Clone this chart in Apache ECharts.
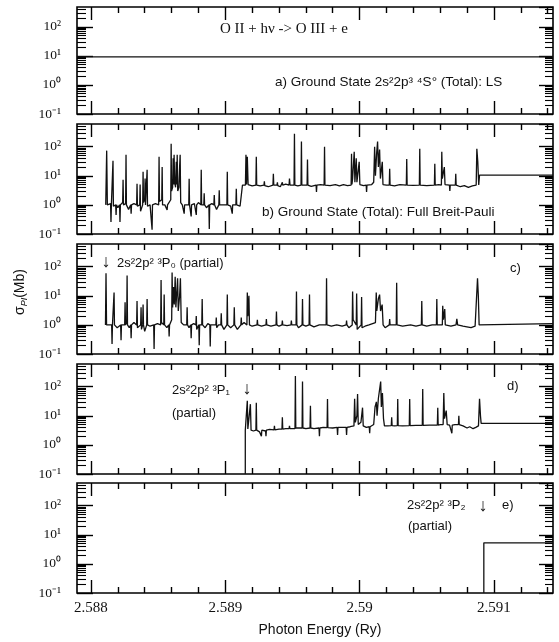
<!DOCTYPE html>
<html><head><meta charset="utf-8">
<script src="https://cdn.jsdelivr.net/npm/echarts@6/dist/echarts.min.js"></script>
<style>html,body{margin:0;padding:0;background:#fff}#c{width:559px;height:642px}</style>
</head><body><div id="c"></div>
<script>
// ---- axis ranges and ticks ----
const xMin = 2.587896, xMax = 2.59144;
const xMajorTicks = [2.588, 2.589, 2.59, 2.591];
const xMinorTicks = [2.5882, 2.5884, 2.5886, 2.5888, 2.5892, 2.5894, 2.5896, 2.5898,
  2.5902, 2.5904, 2.5906, 2.5908, 2.5912, 2.5914];
const yMin = 0.1;
const yMaxByPanel = [480, 600, 600, 600, 600];
const yMinorTicks = [0.2,0.3,0.4,0.5,0.6,0.7,0.8,0.9,2,3,4,5,6,7,8,9,20,30,40,50,60,70,80,90,200,300,400,500];

// ---- panel a: LS total ----
const aPoints = [[2.587896, 9.3], [2.59144, 9.3]];

// ---- panel b: full Breit-Pauli total ----
const bPoints = [
[2.588110,1.0],[2.588117,73],[2.588122,1.0],
[2.588146,1.1],[2.588149,0.26],[2.588152,1.0],
[2.588161,1.0],[2.588164,33],[2.588167,0.9],
[2.588184,1.0],[2.588187,0.45],[2.588190,1.0],
[2.588200,0.8],
[2.588213,1.0],[2.588216,0.26],[2.588219,1.0],
[2.588236,1.2],[2.588239,7.3],[2.588242,1.0],
[2.588258,1.1],[2.588261,53],[2.588264,1.0],
[2.588280,0.7],
[2.588296,1.0],[2.588299,0.5],[2.588302,1.0],
[2.588320,1.1],
[2.588340,1.0],[2.588343,5.3],[2.588346,0.9],
[2.588363,1.0],[2.588366,5],[2.588369,0.6],
[2.588385,1.0],[2.588388,13.7],[2.588391,1.2],
[2.588400,1.5],[2.588403,8],[2.588406,1],
[2.588415,1.0],[2.588418,16],[2.588421,0.9],
[2.588440,1.0],
[2.588452,1.0],[2.588455,0.14],[2.588458,1.0],
[2.588480,1.1],
[2.588504,1.0],[2.588507,45],[2.588510,1.3],
[2.588527,1.5],[2.588530,20],[2.588533,1.0],
[2.588550,1.0],
[2.588564,1.0],[2.588567,0.67],[2.588570,1.0],
[2.588594,1.5],[2.588597,126],[2.588600,3],
[2.588608,4],[2.588612,40],[2.588616,5],
[2.588619,53],[2.588623,6],
[2.588630,4],[2.588635,30],[2.588639,5],
[2.588642,53],[2.588646,3],
[2.588655,4],[2.588660,20],[2.588664,53],[2.588668,1.2],
[2.588680,1.0],
[2.588691,1.0],[2.588694,0.5],[2.588697,1.0],
[2.588728,1.0],[2.588731,7.9],[2.588734,1.0],
[2.588743,1.0],[2.588746,0.4],[2.588749,1.0],
[2.588770,1.1],
[2.588781,1.0],[2.588784,0.45],[2.588787,1.0],
[2.588800,1.2],
[2.588818,1.0],[2.588821,16],[2.588824,1.0],
[2.588840,1.0],[2.588843,2.5],[2.588846,1.0],
[2.588860,0.8],
[2.588878,1.0],[2.588881,0.15],[2.588884,1.0],
[2.588900,1.1],
[2.588915,1.0],[2.588918,2.2],[2.588921,1.0],
[2.588935,0.7],
[2.588952,1.0],[2.588955,3.2],[2.588958,1.0],
[2.588990,1.0],
[2.589012,1.0],[2.589015,13.7],[2.589018,1.0],
[2.589040,0.9],
[2.589049,1.0],[2.589052,0.5],[2.589055,1.0],
[2.589079,1.0],[2.589082,3.6],[2.589085,1.0],
[2.589110,0.9],
[2.589124,1.0],[2.589128,4.8],
[2.589150,4.8],[2.589154,53],[2.589158,5],
[2.589164,45],[2.589170,5],
[2.589200,4.5],
[2.589228,4.8],[2.589231,45],[2.589234,4.8],
[2.589260,4.5],
[2.589288,4.8],[2.589291,6.5],[2.589294,4.6],
[2.589320,4.2],
[2.589355,4.8],[2.589358,11.7],[2.589361,4.8],
[2.589385,4.8],[2.589388,6],[2.589391,4.6],
[2.589410,4.2],
[2.589422,4.8],[2.589425,6],[2.589428,4.8],
[2.589450,5.2],
[2.589475,4.8],[2.589478,8],[2.589482,4.8],
[2.589512,4.8],[2.589515,280],[2.589518,4.8],
[2.589540,4.5],
[2.589564,4.8],[2.589567,150],[2.589570,4.8],
[2.589609,4.8],[2.589612,36],[2.589615,4.8],
[2.589640,4.3],
[2.589676,4.8],[2.589679,2.8],[2.589682,4.8],
[2.589710,5],
[2.589736,4.8],[2.589739,100],[2.589742,4.8],
[2.589780,4.6],
[2.589820,5],[2.589850,4.5],[2.589880,5],
[2.589910,4.6],
[2.589937,4.8],[2.589940,57],[2.589943,5],
[2.589948,8],[2.589960,67],[2.589965,6],
[2.589975,40],[2.589980,6],
[2.589997,30],[2.590002,5],
[2.590030,4.6],
[2.590049,4.8],[2.590052,2.8],[2.590055,4.8],
[2.590090,5],
[2.590105,6],[2.590112,100],[2.590118,10],[2.590127,60],[2.590134,150],[2.590140,20],[2.590149,80],[2.590155,8],[2.590169,30],[2.590174,5],
[2.590200,4.8],
[2.590221,4.8],[2.590224,17.4],[2.590227,4.8],
[2.590260,4.5],
[2.590300,5],
[2.590348,4.8],[2.590351,38],[2.590354,4.8],
[2.590400,4.7],
[2.590445,4.8],[2.590448,85],[2.590451,4.8],
[2.590500,4.6],
[2.590557,4.8],[2.590560,26],[2.590563,4.8],
[2.590590,5],
[2.590609,4.8],[2.590612,67],[2.590616,8],
[2.590631,20],[2.590636,5],
[2.590669,4.8],[2.590672,3],[2.590675,4.8],
[2.590713,4.8],[2.590716,11.7],[2.590719,4.8],
[2.590750,4.2],[2.590780,4.6],[2.590810,4.0],[2.590840,4.5],
[2.590868,4.8],[2.590873,85],[2.590880,30],[2.590887,4.8],
[2.590893,10.5],
[2.59144,10.5]
];

// ---- panel c: 3P0 partial ----
const cPoints = [
[2.588108,1.0],[2.588112,59],[2.588116,1.0],
[2.588130,0.9],
[2.588154,1.0],[2.588157,0.22],[2.588160,1.0],
[2.588169,1.1],[2.588172,13],[2.588175,1.0],
[2.588195,0.8],
[2.588221,1.0],[2.588224,0.3],[2.588227,1.0],
[2.588251,1.0],[2.588254,6],[2.588257,1.0],
[2.588266,1.2],[2.588269,50],[2.588272,1.0],
[2.588285,0.8],
[2.588296,1.0],[2.588299,0.35],[2.588302,1.0],
[2.588320,1.2],
[2.588340,1.0],[2.588343,6.6],[2.588346,0.8],
[2.588370,1.0],[2.588373,4],[2.588376,0.7],
[2.588385,1.0],[2.588388,5],[2.588391,1.0],
[2.588400,0.6],
[2.588415,1.0],[2.588418,7.7],[2.588421,1.0],
[2.588440,0.9],
[2.588467,1.0],[2.588470,0.15],[2.588473,1.0],
[2.588495,1.1],
[2.588519,1.0],[2.588522,35],[2.588525,1.2],
[2.588542,1.0],[2.588545,11],[2.588548,1.0],
[2.588565,0.8],
[2.588579,1.0],[2.588582,0.4],[2.588585,1.0],
[2.588601,1.5],[2.588604,63],[2.588608,4],[2.588615,20],[2.588620,5],[2.588627,45],[2.588632,4],[2.588640,15],[2.588645,40],[2.588650,3],[2.588660,10],[2.588666,40],[2.588672,1.2],
[2.588690,1.0],
[2.588713,1.0],[2.588716,4],[2.588719,1.0],
[2.588730,0.8],
[2.588743,1.0],[2.588746,0.35],[2.588749,1.0],
[2.588765,1.1],
[2.588781,1.0],[2.588784,2],[2.588787,0.7],
[2.588803,1.0],[2.588806,0.2],[2.588809,1.0],
[2.588825,1.0],[2.588828,7.7],[2.588831,1.0],
[2.588850,0.8],
[2.588870,1.1],
[2.588885,1.0],[2.588888,0.18],[2.588891,1.0],
[2.588910,1.0],
[2.588930,1.0],[2.588933,1.8],[2.588936,0.8],
[2.588950,1.0],
[2.588967,1.0],[2.588970,2.5],[2.588973,1.0],
[2.588990,0.7],
[2.589012,1.0],[2.589015,11],[2.589018,1.0],
[2.589040,0.8],
[2.589064,1.0],[2.589067,4],[2.589070,1.0],
[2.589090,0.7],
[2.589116,1.0],[2.589119,1.8],[2.589122,1.0],
[2.589140,1.2],
[2.589161,1.0],[2.589164,13],[2.589168,2],[2.589176,10],[2.589180,1.0],
[2.589200,0.9],
[2.589236,1.0],[2.589239,1.5],[2.589242,1.0],
[2.589270,0.9],
[2.589303,1.0],[2.589306,1.6],[2.589309,1.0],
[2.589340,0.9],
[2.589378,1.0],[2.589381,2.9],[2.589384,1.0],
[2.589400,0.9],
[2.589422,1.0],[2.589425,1.4],[2.589428,1.0],
[2.589460,0.95],
[2.589489,1.0],[2.589492,1.4],[2.589495,1.0],
[2.589527,1.0],[2.589530,14],[2.589533,1.0],
[2.589545,0.8],
[2.589572,1.0],[2.589575,7.7],[2.589578,1.0],
[2.589600,0.9],
[2.589624,1.0],[2.589627,11],[2.589630,1.0],
[2.589660,0.85],
[2.589700,1.0],
[2.589751,1.0],[2.589754,40],[2.589757,1.0],
[2.589790,0.9],
[2.589830,1.0],
[2.589870,0.9],
[2.589900,1.0],[2.589903,1.4],[2.589906,1.0],
[2.589920,0.8],
[2.589945,1.0],[2.589948,14],[2.589952,1.5],
[2.589975,1.0],[2.589978,12],[2.589982,0.7],
[2.590012,1.0],[2.590015,9],[2.590018,0.8],
[2.590040,0.9],
[2.590070,1.0],
[2.590118,1.2],[2.590124,13],[2.590128,3],[2.590140,8],[2.590149,11],[2.590156,3],[2.590168,5],[2.590175,1.0],
[2.590190,0.8],
[2.590221,1.0],[2.590224,1.6],[2.590227,1.0],
[2.590273,1.0],[2.590276,28],[2.590279,1.0],
[2.590320,0.9],
[2.590380,1.0],
[2.590420,0.9],
[2.590460,1.0],[2.590463,6.6],[2.590466,1.0],
[2.590500,0.9],
[2.590540,1.0],
[2.590572,1.0],[2.590575,7.7],[2.590578,1.0],
[2.590600,1.0],
[2.590616,1.0],[2.590619,4.5],[2.590624,1.5],[2.590634,3.5],[2.590638,1.0],
[2.590680,0.9],
[2.590718,1.0],[2.590724,1.6],[2.590730,1.0],
[2.590770,0.9],
[2.590799,0.85],
[2.590830,0.8],
[2.590860,0.9],
[2.590874,1.0],[2.590878,40],[2.590884,10],[2.590890,1.0],
[2.590896,1.1],
[2.59144,1.1]
];

// ---- panel d: 3P1 partial ----
const dPoints = [
[2.589149,0.1],[2.589149,3.2],
[2.589160,3.2],[2.589164,33],[2.589168,3.5],
[2.589180,4],[2.589187,25],[2.589192,3.2],
[2.589210,3.0],
[2.589228,3.2],[2.589231,28],[2.589234,3.2],
[2.589255,2.8],
[2.589266,3.2],[2.589269,2.0],[2.589272,3.2],
[2.589300,3.0],[2.589303,2.0],[2.589306,3.2],
[2.589330,3.4],
[2.589363,3.3],[2.589366,4.5],[2.589369,3.3],
[2.589400,3.5],
[2.589422,3.5],[2.589425,8.8],[2.589428,3.5],
[2.589450,3.6],
[2.589475,3.6],[2.589478,4.5],[2.589481,3.6],
[2.589519,3.6],[2.589522,230],[2.589525,3.8],
[2.589572,3.8],[2.589575,150],[2.589578,3.8],
[2.589600,3.6],
[2.589631,3.8],[2.589634,22],[2.589637,3.8],
[2.589660,3.6],
[2.589698,3.8],[2.589701,2.0],[2.589704,3.8],
[2.589730,4],
[2.589758,3.9],[2.589761,38],[2.589764,3.9],
[2.589800,3.8],
[2.589833,4],[2.589836,2.2],[2.589839,4],
[2.589870,4],
[2.589900,4],[2.589903,2.2],[2.589906,4],
[2.589930,4.2],
[2.589958,4.5],[2.589963,38],[2.589968,6],[2.589980,10],[2.589985,56],[2.589990,5],
[2.590010,6],[2.590022,19],[2.590027,4.5],
[2.590050,4],
[2.590072,4.2],[2.590075,2.5],[2.590078,4.2],
[2.590105,5],[2.590115,20],[2.590125,30],[2.590130,10],[2.590140,40],[2.590157,150],[2.590162,20],[2.590170,60],[2.590178,8],[2.590185,4.5],
[2.590210,4.5],
[2.590236,4.6],[2.590239,8.8],[2.590242,4.6],
[2.590260,4.5],
[2.590281,4.6],[2.590284,38],[2.590287,4.6],
[2.590320,4.5],
[2.590370,4.6],[2.590373,38],[2.590376,4.6],
[2.590420,4.7],
[2.590467,4.7],[2.590470,83],[2.590473,4.7],
[2.590520,4.8],
[2.590579,4.8],[2.590582,19],[2.590585,4.8],
[2.590600,5],
[2.590622,5],[2.590627,60],[2.590632,8],[2.590645,15],[2.590652,5],
[2.590670,4.8],
[2.590684,4.8],[2.590687,2.5],[2.590690,4.8],
[2.590710,5],
[2.590736,5],[2.590739,10],[2.590742,5],
[2.590770,4.5],
[2.590800,3.8],[2.590820,4.2],[2.590845,3.6],[2.590865,4],
[2.590885,4.5],[2.590893,38],[2.590900,10],[2.590905,5.5],
[2.59144,5.5]
];

// ---- panel e: 3P2 partial ----
const ePoints = [[2.590925, 0.1], [2.590925, 5.3], [2.59144, 5.3]];

const panelData = [aPoints, bPoints, cPoints, dPoints, ePoints];
const panelTops = [7, 124, 244, 364, 483];
const panelHeights = [107, 110, 110, 110, 110];

const SUP = {'-':'\u207B','0':'\u2070','1':'\u00B9','2':'\u00B2','3':'\u00B3'};
function powLabel(v) {
  const l = Math.log10(v), e = Math.round(l);
  if (Math.abs(l - e) > 1e-6) return '';
  return '10' + String(e).split('').map(c => SUP[c]).join('');
}

const grids = [], xAxes = [], yAxes = [], series = [];
const tickStyle = {color: '#000', width: 1.4};
const minorStyle = {color: '#000', width: 1.1};
for (let i = 0; i < 5; i++) {
  grids.push({left: 77, right: 6, top: panelTops[i], height: panelHeights[i],
    show: true, borderColor: '#000', borderWidth: 1.6, backgroundColor: 'transparent'});
  const xBase = {type: 'value', gridIndex: i, min: xMin, max: xMax, splitLine: {show: false},
    axisLine: {show: false}};
  [['bottom', xMajorTicks, 13, i === 4], ['bottom', xMinorTicks, 6, false],
   ['top', xMajorTicks, 13, false], ['top', xMinorTicks, 6, false]].forEach(([pos, vals, len, lab]) => {
    xAxes.push(Object.assign({}, xBase, {position: pos,
      axisTick: {show: true, inside: true, length: len, customValues: vals, lineStyle: tickStyle},
      axisLabel: {show: lab, customValues: xMajorTicks, fontFamily: 'Liberation Serif', fontSize: 15,
        color: '#111', margin: 8, formatter: v => String(+v.toFixed(3))}}));
  });
  const yBase = {type: 'log', logBase: 10, gridIndex: i, min: yMin, max: yMaxByPanel[i],
    splitLine: {show: false}, axisLine: {show: false}};
  yAxes.push(Object.assign({}, yBase, {position: 'left',
    axisTick: {show: true, inside: true, length: 16, lineStyle: tickStyle},
    axisLabel: {show: true, formatter: powLabel, fontFamily: 'Liberation Serif', fontSize: 13.5,
      color: '#111', margin: 16, showMaxLabel: false}}));
  yAxes.push(Object.assign({}, yBase, {position: 'left',
    axisTick: {show: true, inside: true, length: 9, customValues: yMinorTicks, lineStyle: minorStyle},
    axisLabel: {show: false}}));
  yAxes.push(Object.assign({}, yBase, {position: 'right',
    axisTick: {show: true, inside: true, length: 14, lineStyle: tickStyle},
    axisLabel: {show: false}}));
  yAxes.push(Object.assign({}, yBase, {position: 'right',
    axisTick: {show: true, inside: true, length: 8, customValues: yMinorTicks, lineStyle: minorStyle},
    axisLabel: {show: false}}));
  series.push({type: 'line', xAxisIndex: 4 * i, yAxisIndex: 4 * i, data: panelData[i],
    showSymbol: false, symbol: 'none', silent: true, clip: true,
    lineStyle: {color: '#111', width: 1.3}});
}

const sans = 'Liberation Sans', serif = 'Liberation Serif';
function txt(x, y, text, size, family, align, weight) {
  return {type: 'text', x: x, y: y, silent: true,
    style: {text: text, font: (weight || 'normal') + ' ' + size + 'px "' + family + '"', fill: '#111',
      textAlign: align || 'left', textVerticalAlign: 'middle'}};
}
const graphics = [
  txt(220, 29, 'O II + h\u03BD -> O III + e', 15, serif),
  txt(275, 82, 'a) Ground State 2s\u00B22p\u00B3 \u2074S\u00B0 (Total): LS', 13.5, sans),
  txt(262, 212, 'b) Ground State (Total): Full Breit-Pauli', 13.5, sans),
  txt(106, 262, '\u2193', 18, sans, 'center', 'bold'),
  txt(117, 263, '2s\u00B22p\u00B2 \u00B3P\u2080 (partial)', 13, sans),
  txt(510, 268, 'c)', 13, sans),
  txt(172, 390, '2s\u00B22p\u00B2 \u00B3P\u2081', 13, sans),
  txt(247, 389, '\u2193', 18, sans, 'center', 'bold'),
  txt(172, 413, '(partial)', 13, sans),
  txt(507, 386, 'd)', 13, sans),
  txt(407, 505, '2s\u00B22p\u00B2 \u00B3P\u2082', 13, sans),
  txt(483, 506, '\u2193', 18, sans, 'center', 'bold'),
  txt(502, 505, 'e)', 13, sans),
  txt(408, 526, '(partial)', 13, sans),
  txt(320, 630, 'Photon Energy (Ry)', 14, sans, 'center'),
  {type: 'text', x: 20, y: 292, rotation: Math.PI / 2, silent: true,
    style: {text: '{s|\u03C3}{p|PI}{s|(Mb)}', textAlign: 'center', textVerticalAlign: 'middle',
      rich: {s: {fontFamily: sans, fontSize: 14, fill: '#111', lineHeight: 18},
             p: {fontFamily: sans, fontSize: 9, fill: '#111', lineHeight: 18, verticalAlign: 'bottom', fontStyle: 'italic'}}}}
];

const chart = echarts.init(document.getElementById('c'), null, {renderer: 'canvas'});
chart.setOption({animation: false, backgroundColor: '#fff', grid: grids, xAxis: xAxes, yAxis: yAxes,
  series: series, graphic: graphics});
</script></body></html>
